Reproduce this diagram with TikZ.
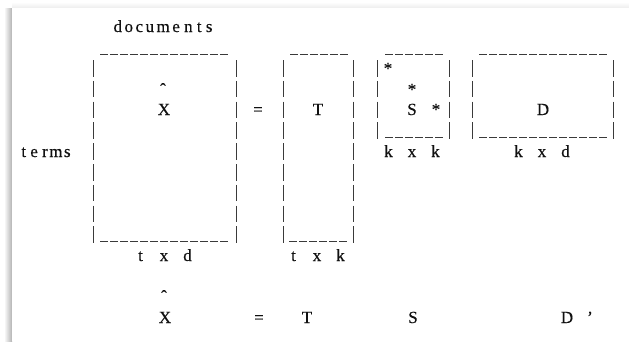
\documentclass[tikz,border=0pt]{standalone}
\usepackage{fontspec}
\setmainfont{Liberation Serif}
\newfontfamily\lsafont{Liberation Serif}[FakeBold=0.35]
\definecolor{lsaInk}{HTML}{111111}
\definecolor{lsaRule}{HTML}{3A3A3A}
\newcommand{\dimtriple}[3]{\makebox[23.5pt]{#1}\makebox[23.5pt]{#2}\makebox[23.5pt]{#3}}
\newcommand{\hatmark}{{\char"02C6}}

\begin{document}
\begin{tikzpicture}[x=1pt,y=-1pt,line cap=butt]
\useasboundingbox (0,0) rectangle (629,341);
\shade[left color=white,right color=black!30] (4,8) rectangle (12,341);
\shade[top color=white,bottom color=black!7] (12,2) rectangle (629,8);
\path[fill=white] (12,8) rectangle (629,341);
\tikzset{txt/.style={anchor=base,text=lsaInk,font=\lsafont\fontsize{17}{20}\selectfont,inner sep=0pt},hrule/.style={draw=lsaRule,line width=0.9pt,dash pattern=on 7.5pt off 2.5pt},vrule/.style={draw=lsaRule,line width=0.9pt,dash pattern=on 16.5pt off 4.3pt}}
% axis words
\node[txt] (docs) at (163,32) {d\kern2.5pt o\kern2.5pt c\kern2.5pt u\kern2.5pt m\kern2.5pt e\ n\ t\ s};
\node[txt] (terms) at (46,157) {t\ e\ r\kern1.5pt m\kern1.5pt s};
% X hat, t x d
\draw[vrule] (93,60) -- (93,243); \draw[vrule] (236,60) -- (236,243);
\draw[hrule] (100,54.5) -- (230,54.5); \draw[hrule] (100,241.5) -- (230,241.5);
\node[txt] (xhat) at (163,95) {\hatmark}; \node[txt] (xmat) at (164,115) {X};
\node[txt] (xdim) at (164,261) {\dimtriple{t}{x}{d}};
\node[txt] (eq) at (258,115) {=};
% T, t x k
\draw[vrule] (283,60) -- (283,243); \draw[vrule] (353,60) -- (353,243);
\draw[hrule] (290,54.5) -- (348,54.5); \draw[hrule] (289,241.5) -- (348,241.5);
\node[txt] (tmat) at (318,115) {T};
\node[txt] (tdim) at (317,261) {\dimtriple{t}{x}{k}};
% S, k x k
\draw[vrule] (377,60) -- (377,139); \draw[vrule] (449,60) -- (449,139);
\draw[hrule] (385,54.5) -- (443,54.5); \draw[hrule] (385,137.5) -- (443,137.5);
\node[txt] (sstarA) at (388,74) {*}; \node[txt] (sstarB) at (412,95) {*};
\node[txt] (smat) at (412,115) {S}; \node[txt] (sstarC) at (436,115) {*};
\node[txt] (sdim) at (412,157) {\dimtriple{k}{x}{k}};
% D, k x d
\draw[vrule] (472,60) -- (472,139); \draw[vrule] (613,60) -- (613,139);
\draw[hrule] (479,54.5) -- (608,54.5); \draw[hrule] (479,137.5) -- (608,137.5);
\node[txt] (dmat) at (543,115) {D};
\node[txt] (ddim) at (542,157) {\dimtriple{k}{x}{d}};
% X hat = T S D'
\node[txt] (xhatB) at (164,302) {\hatmark}; \node[txt] (xB) at (165,323) {X};
\node[txt] (eqB) at (259,323) {=}; \node[txt] (tB) at (307,323) {T};
\node[txt] (sB) at (413,323) {S}; \node[txt] (dB) at (567,323) {D};
\node[txt] (primeB) at (590,323) {’};
\end{tikzpicture}
\end{document}
